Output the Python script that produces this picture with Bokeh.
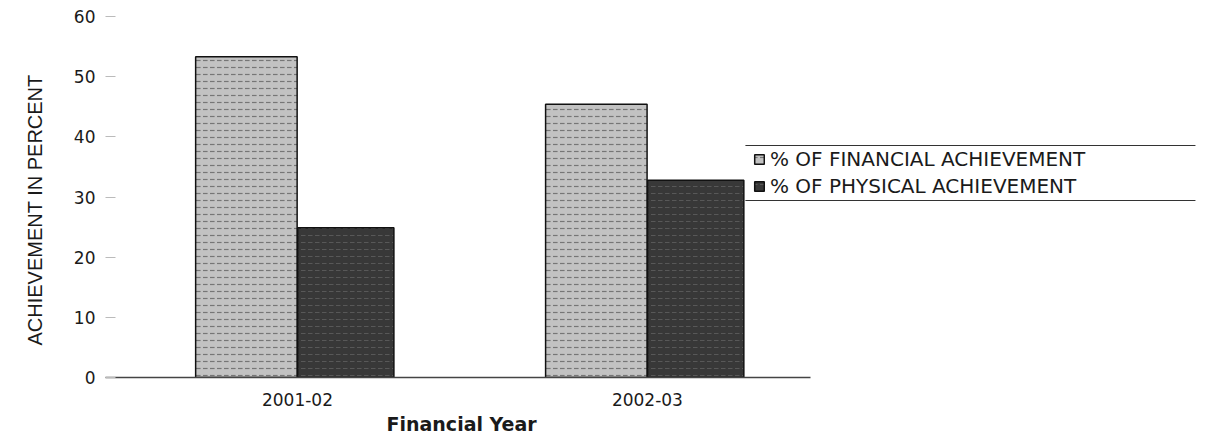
from bokeh.plotting import figure
from bokeh.models import Range1d, FixedTicker, Legend, LegendItem, Arrow, ColumnDataSource, Title
from bokeh.transform import dodge
from bokeh.embed import file_html
from bokeh.resources import INLINE

years = ["2001-02", "2002-03"]
financial = [53.3, 45.4]
physical = [24.9, 32.8]
y_ticks = [0, 10, 20, 30, 40, 50, 60]
series_names = ["% OF FINANCIAL ACHIEVEMENT", "% OF PHYSICAL ACHIEVEMENT"]
x_title = "Financial Year"
y_title = "ACHIEVEMENT IN PERCENT"

pos = [i + 0.5 for i in range(len(years))]
src = ColumnDataSource(dict(x=pos, fin=financial, phy=physical))

p = figure(width=1221, height=440, output_backend="svg", toolbar_location=None,
           x_range=Range1d(-0.0486, 3.109), y_range=Range1d(0, 60),
           min_border_left=105, min_border_right=11, min_border_top=16, min_border_bottom=63)
p.outline_line_color = None
p.xgrid.visible = False
p.ygrid.visible = False
p.background_fill_color = "white"

r_fin = p.vbar(x=dodge("x", -0.146), top="fin", width=0.29, source=src,
               fill_color="#c2c2c2", line_color="#111111", line_width=1.5,
               hatch_pattern="horizontal_dash", hatch_color="#555555",
               hatch_scale=7, hatch_weight=1.2, hatch_alpha=0.7)
r_phy = p.vbar(x=dodge("x", 0.138), top="phy", width=0.275, source=src,
               fill_color="#383838", line_color="#111111", line_width=1.5,
               hatch_pattern="horizontal_dash", hatch_color="#6e6e6e",
               hatch_scale=7, hatch_weight=1.0, hatch_alpha=0.6)

# y axis
ya = p.yaxis[0]
ya.ticker = FixedTicker(ticks=y_ticks)
ya.axis_line_color = None
ya.major_tick_in = 10
ya.major_tick_out = 0
ya.major_tick_line_color = "#bbbbbb"
ya.minor_tick_line_color = None
ya.major_label_standoff = 10
ya.major_label_text_font = "DejaVu Sans"
ya.major_label_text_font_size = "17px"
ya.major_label_text_color = "#1a1a1a"

# x axis
xa = p.xaxis[0]
xa.ticker = FixedTicker(ticks=pos)
xa.major_label_overrides = {x: y for x, y in zip(pos, years)}
xa.major_tick_line_color = None
xa.major_tick_out = 0
xa.major_tick_in = 0
xa.minor_tick_line_color = None
xa.axis_line_color = "#444444"
xa.axis_line_width = 1.5
xa.bounds = (-0.0486, 1.966)
xa.major_label_standoff = 15
xa.major_label_text_font = "DejaVu Sans"
xa.major_label_text_font_size = "17px"
xa.major_label_text_color = "#1a1a1a"

p.add_layout(Title(text=x_title, align="left", offset=281, standoff=4,
                   text_font="DejaVu Sans", text_font_style="bold",
                   text_font_size="19px", text_color="#1a1a1a"), "below")
p.add_layout(Title(text=y_title, align="left", offset=32, standoff=46,
                   vertical_align="top",
                   text_font="Liberation Sans", text_font_style="normal",
                   text_font_size="20px", text_color="#1a1a1a"), "left")

legend = Legend(items=[LegendItem(label=series_names[0], renderers=[r_fin]),
                       LegendItem(label=series_names[1], renderers=[r_phy])],
                location=(648, 179))
legend.border_line_color = None
legend.background_fill_alpha = 0
legend.padding = 2
legend.spacing = 3
legend.margin = 0
legend.label_height = 22
legend.glyph_height = 12
legend.glyph_width = 12
legend.label_standoff = 5
legend.label_text_font = "DejaVu Sans"
legend.label_text_font_size = "20px"
legend.label_text_color = "#1a1a1a"
p.add_layout(legend)

for yv in (38.56, 29.42):
    p.add_layout(Arrow(end=None, x_start=1.78, y_start=yv, x_end=3.066, y_end=yv,
                       line_color="#333333", line_width=1.2))

open("out.html", "w").write(file_html(p, INLINE))
